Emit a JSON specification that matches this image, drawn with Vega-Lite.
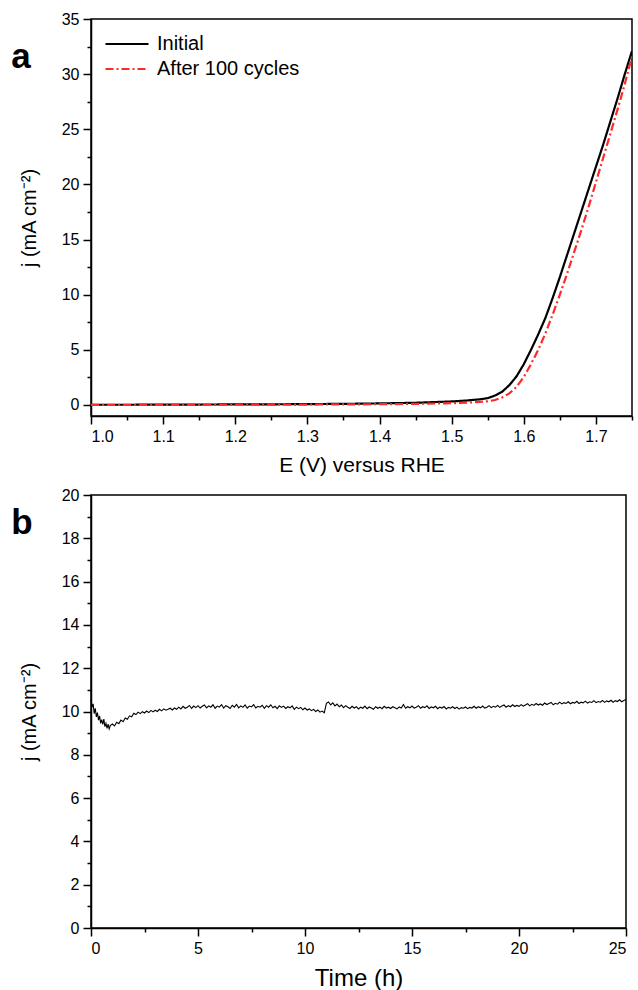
{
  "$schema": "https://vega.github.io/schema/vega-lite/v6.json",
  "padding": {"left": 10, "top": 10, "right": 5, "bottom": 5},
  "spacing": 10,
  "config": {
    "font": "Liberation Sans",
    "view": {"stroke": "black", "strokeWidth": 1.5},
    "axis": {
      "domainColor": "black", "domainWidth": 1.5, "tickColor": "black", "tickWidth": 1.5,
      "tickSize": 8, "labelFontSize": 16, "labelColor": "black", "titleFontSize": 20,
      "titleFontWeight": "normal", "titleColor": "black", "grid": false, "labelPadding": 4
    },
    "title": {"fontSize": 35, "fontWeight": "bold", "color": "black"}
  },
  "vconcat": [
    {
      "width": 541,
      "height": 397,
      "title": {"text": "a", "anchor": "start", "frame": "bounds", "dy": 68, "dx": -8},
      "data": {"values": [
        {"E": 1.00, "j": 0.02, "s": "Initial"},
        {"E": 1.05, "j": 0.02, "s": "Initial"},
        {"E": 1.10, "j": 0.03, "s": "Initial"},
        {"E": 1.15, "j": 0.04, "s": "Initial"},
        {"E": 1.20, "j": 0.05, "s": "Initial"},
        {"E": 1.25, "j": 0.06, "s": "Initial"},
        {"E": 1.30, "j": 0.08, "s": "Initial"},
        {"E": 1.35, "j": 0.10, "s": "Initial"},
        {"E": 1.40, "j": 0.14, "s": "Initial"},
        {"E": 1.45, "j": 0.20, "s": "Initial"},
        {"E": 1.50, "j": 0.32, "s": "Initial"},
        {"E": 1.52, "j": 0.40, "s": "Initial"},
        {"E": 1.54, "j": 0.52, "s": "Initial"},
        {"E": 1.55, "j": 0.62, "s": "Initial"},
        {"E": 1.56, "j": 0.85, "s": "Initial"},
        {"E": 1.57, "j": 1.20, "s": "Initial"},
        {"E": 1.58, "j": 1.80, "s": "Initial"},
        {"E": 1.59, "j": 2.60, "s": "Initial"},
        {"E": 1.60, "j": 3.70, "s": "Initial"},
        {"E": 1.61, "j": 5.00, "s": "Initial"},
        {"E": 1.62, "j": 6.40, "s": "Initial"},
        {"E": 1.63, "j": 7.90, "s": "Initial"},
        {"E": 1.64, "j": 9.70, "s": "Initial"},
        {"E": 1.65, "j": 11.6, "s": "Initial"},
        {"E": 1.66, "j": 13.6, "s": "Initial"},
        {"E": 1.67, "j": 15.6, "s": "Initial"},
        {"E": 1.68, "j": 17.6, "s": "Initial"},
        {"E": 1.69, "j": 19.6, "s": "Initial"},
        {"E": 1.70, "j": 21.6, "s": "Initial"},
        {"E": 1.71, "j": 23.6, "s": "Initial"},
        {"E": 1.72, "j": 25.7, "s": "Initial"},
        {"E": 1.73, "j": 27.8, "s": "Initial"},
        {"E": 1.74, "j": 30.0, "s": "Initial"},
        {"E": 1.75, "j": 32.1, "s": "Initial"},
        {"E": 1.00, "j": 0.00, "s": "After 100 cycles"},
        {"E": 1.10, "j": 0.01, "s": "After 100 cycles"},
        {"E": 1.20, "j": 0.02, "s": "After 100 cycles"},
        {"E": 1.30, "j": 0.04, "s": "After 100 cycles"},
        {"E": 1.40, "j": 0.07, "s": "After 100 cycles"},
        {"E": 1.45, "j": 0.10, "s": "After 100 cycles"},
        {"E": 1.50, "j": 0.16, "s": "After 100 cycles"},
        {"E": 1.53, "j": 0.24, "s": "After 100 cycles"},
        {"E": 1.55, "j": 0.33, "s": "After 100 cycles"},
        {"E": 1.56, "j": 0.45, "s": "After 100 cycles"},
        {"E": 1.57, "j": 0.68, "s": "After 100 cycles"},
        {"E": 1.58, "j": 1.05, "s": "After 100 cycles"},
        {"E": 1.59, "j": 1.65, "s": "After 100 cycles"},
        {"E": 1.60, "j": 2.55, "s": "After 100 cycles"},
        {"E": 1.61, "j": 3.70, "s": "After 100 cycles"},
        {"E": 1.62, "j": 5.00, "s": "After 100 cycles"},
        {"E": 1.63, "j": 6.50, "s": "After 100 cycles"},
        {"E": 1.64, "j": 8.20, "s": "After 100 cycles"},
        {"E": 1.65, "j": 10.0, "s": "After 100 cycles"},
        {"E": 1.66, "j": 11.9, "s": "After 100 cycles"},
        {"E": 1.67, "j": 13.9, "s": "After 100 cycles"},
        {"E": 1.68, "j": 15.9, "s": "After 100 cycles"},
        {"E": 1.69, "j": 18.0, "s": "After 100 cycles"},
        {"E": 1.70, "j": 20.2, "s": "After 100 cycles"},
        {"E": 1.71, "j": 22.4, "s": "After 100 cycles"},
        {"E": 1.72, "j": 24.6, "s": "After 100 cycles"},
        {"E": 1.73, "j": 26.8, "s": "After 100 cycles"},
        {"E": 1.74, "j": 29.1, "s": "After 100 cycles"},
        {"E": 1.75, "j": 31.6, "s": "After 100 cycles"}
      ]},
      "layer": [
        {
          "mark": {"type": "line", "strokeWidth": 2.2, "clip": true},
          "encoding": {
            "x": {"field": "E", "type": "quantitative",
              "scale": {"domain": [1.0, 1.75], "nice": false, "zero": false},
              "axis": {"orient": "bottom", "values": [1.0, 1.1, 1.2, 1.3, 1.4, 1.5, 1.6, 1.7], "format": ".1f", "title": "E (V) versus RHE", "titleFontSize": 21, "titlePadding": 10}},
            "y": {"field": "j", "type": "quantitative",
              "scale": {"domain": [-1, 35], "nice": false},
              "axis": {"orient": "left", "values": [0, 5, 10, 15, 20, 25, 30, 35], "title": "j (mA cm⁻²)", "titlePadding": 22}},
            "color": {"field": "s", "type": "nominal",
              "scale": {"domain": ["Initial", "After 100 cycles"], "range": ["black", "#ff2a2a"]},
              "legend": {"title": null, "orient": "top-left", "offset": 13, "symbolType": "stroke", "symbolSize": 1850, "symbolStrokeWidth": 2, "clipHeight": 24, "labelFontSize": 20, "labelColor": "black", "rowPadding": 1, "labelOffset": 7}},
            "strokeDash": {"field": "s", "type": "nominal",
              "scale": {"domain": ["Initial", "After 100 cycles"], "range": [[1, 0], [8, 3, 2, 3]]},
              "legend": {"title": null, "orient": "top-left", "offset": 13, "symbolType": "stroke", "symbolSize": 1850, "symbolStrokeWidth": 2, "clipHeight": 24, "labelFontSize": 20, "labelColor": "black", "rowPadding": 1, "labelOffset": 7}}
          }
        },
        {
          "mark": {"type": "point", "opacity": 0},
          "encoding": {
            "x": {"field": "E", "type": "quantitative",
              "axis": {"orient": "bottom", "values": [1.05, 1.15, 1.25, 1.35, 1.45, 1.55, 1.65, 1.75], "labels": false, "domain": false, "tickSize": 4, "title": null}},
            "y": {"field": "j", "type": "quantitative",
              "axis": {"orient": "left", "values": [2.5, 7.5, 12.5, 17.5, 22.5, 27.5, 32.5], "labels": false, "domain": false, "tickSize": 4, "title": null}}
          }
        }
      ],
      "resolve": {"axis": {"x": "independent", "y": "independent"}}
    },
    {
      "width": 535,
      "height": 433,
      "title": {"text": "b", "anchor": "start", "frame": "bounds", "dy": 58, "dx": -8},
      "data": {"values": [
        {"t": 0.0, "j": 10.55}, {"t": 0.05, "j": 10.2}, {"t": 0.1, "j": 10.35}, {"t": 0.15, "j": 9.9},
        {"t": 0.2, "j": 10.15}, {"t": 0.25, "j": 9.75}, {"t": 0.3, "j": 9.95}, {"t": 0.35, "j": 9.6},
        {"t": 0.4, "j": 9.8}, {"t": 0.45, "j": 9.45}, {"t": 0.5, "j": 9.62}, {"t": 0.55, "j": 9.4},
        {"t": 0.6, "j": 9.65}, {"t": 0.65, "j": 9.3}, {"t": 0.7, "j": 9.45}, {"t": 0.75, "j": 9.22},
        {"t": 0.8, "j": 9.42}, {"t": 0.85, "j": 9.2}, {"t": 0.9, "j": 9.35}, {"t": 1.0, "j": 9.42},
        {"t": 1.1, "j": 9.33}, {"t": 1.2, "j": 9.5}, {"t": 1.3, "j": 9.44}, {"t": 1.4, "j": 9.6},
        {"t": 1.5, "j": 9.53}, {"t": 1.6, "j": 9.7}, {"t": 1.7, "j": 9.64}, {"t": 1.8, "j": 9.8},
        {"t": 1.9, "j": 9.76},
        {"t": 2.0, "j": 9.92}, {"t": 2.1, "j": 9.86}, {"t": 2.2, "j": 9.97}, {"t": 2.3, "j": 9.9}, {"t": 2.4, "j": 9.99},
        {"t": 2.5, "j": 9.93}, {"t": 2.6, "j": 10.02}, {"t": 2.7, "j": 9.95}, {"t": 2.8, "j": 10.05}, {"t": 2.9, "j": 9.98},
        {"t": 3.0, "j": 10.06}, {"t": 3.1, "j": 10.0}, {"t": 3.2, "j": 10.1}, {"t": 3.3, "j": 10.03}, {"t": 3.4, "j": 10.12},
        {"t": 3.5, "j": 10.06}, {"t": 3.6, "j": 10.1}, {"t": 3.7, "j": 10.15}, {"t": 3.8, "j": 10.07}, {"t": 3.9, "j": 10.16},
        {"t": 4.0, "j": 10.1}, {"t": 4.1, "j": 10.2}, {"t": 4.2, "j": 10.12}, {"t": 4.3, "j": 10.24}, {"t": 4.4, "j": 10.15},
        {"t": 4.5, "j": 10.2}, {"t": 4.6, "j": 10.28}, {"t": 4.7, "j": 10.14}, {"t": 4.8, "j": 10.25}, {"t": 4.9, "j": 10.18},
        {"t": 5.0, "j": 10.27}, {"t": 5.1, "j": 10.16}, {"t": 5.2, "j": 10.24}, {"t": 5.3, "j": 10.3}, {"t": 5.4, "j": 10.17},
        {"t": 5.5, "j": 10.26}, {"t": 5.6, "j": 10.2}, {"t": 5.7, "j": 10.31}, {"t": 5.8, "j": 10.15}, {"t": 5.9, "j": 10.25},
        {"t": 6.0, "j": 10.2}, {"t": 6.1, "j": 10.32}, {"t": 6.2, "j": 10.16}, {"t": 6.3, "j": 10.27}, {"t": 6.4, "j": 10.22},
        {"t": 6.5, "j": 10.14}, {"t": 6.6, "j": 10.29}, {"t": 6.7, "j": 10.2}, {"t": 6.8, "j": 10.33}, {"t": 6.9, "j": 10.17},
        {"t": 7.0, "j": 10.26}, {"t": 7.1, "j": 10.19}, {"t": 7.2, "j": 10.3}, {"t": 7.3, "j": 10.15}, {"t": 7.4, "j": 10.25},
        {"t": 7.5, "j": 10.21}, {"t": 7.6, "j": 10.32}, {"t": 7.7, "j": 10.16}, {"t": 7.8, "j": 10.24}, {"t": 7.9, "j": 10.2},
        {"t": 8.0, "j": 10.29}, {"t": 8.1, "j": 10.15}, {"t": 8.2, "j": 10.27}, {"t": 8.3, "j": 10.2}, {"t": 8.4, "j": 10.31},
        {"t": 8.5, "j": 10.17}, {"t": 8.6, "j": 10.24}, {"t": 8.7, "j": 10.13}, {"t": 8.8, "j": 10.26}, {"t": 8.9, "j": 10.19},
        {"t": 9.0, "j": 10.25}, {"t": 9.1, "j": 10.14}, {"t": 9.2, "j": 10.22}, {"t": 9.3, "j": 10.17}, {"t": 9.4, "j": 10.26},
        {"t": 9.5, "j": 10.1}, {"t": 9.6, "j": 10.2}, {"t": 9.7, "j": 10.13}, {"t": 9.8, "j": 10.19}, {"t": 9.9, "j": 10.08},
        {"t": 10.0, "j": 10.16}, {"t": 10.1, "j": 10.07}, {"t": 10.2, "j": 10.12}, {"t": 10.3, "j": 10.04}, {"t": 10.4, "j": 10.1},
        {"t": 10.5, "j": 10.0}, {"t": 10.6, "j": 10.07}, {"t": 10.7, "j": 9.97}, {"t": 10.8, "j": 10.02}, {"t": 10.9, "j": 9.94},
        {"t": 11.0, "j": 10.38}, {"t": 11.1, "j": 10.44}, {"t": 11.2, "j": 10.3}, {"t": 11.3, "j": 10.4}, {"t": 11.4, "j": 10.26},
        {"t": 11.5, "j": 10.34}, {"t": 11.6, "j": 10.22}, {"t": 11.7, "j": 10.3}, {"t": 11.8, "j": 10.18}, {"t": 11.9, "j": 10.27},
        {"t": 12.0, "j": 10.2}, {"t": 12.1, "j": 10.14}, {"t": 12.2, "j": 10.24}, {"t": 12.3, "j": 10.16}, {"t": 12.4, "j": 10.22},
        {"t": 12.5, "j": 10.12}, {"t": 12.6, "j": 10.2}, {"t": 12.7, "j": 10.15}, {"t": 12.8, "j": 10.25}, {"t": 12.9, "j": 10.13},
        {"t": 13.0, "j": 10.21}, {"t": 13.1, "j": 10.16}, {"t": 13.2, "j": 10.1}, {"t": 13.3, "j": 10.22}, {"t": 13.4, "j": 10.15},
        {"t": 13.5, "j": 10.2}, {"t": 13.6, "j": 10.13}, {"t": 13.7, "j": 10.24}, {"t": 13.8, "j": 10.16}, {"t": 13.9, "j": 10.2},
        {"t": 14.0, "j": 10.14}, {"t": 14.1, "j": 10.22}, {"t": 14.2, "j": 10.17}, {"t": 14.3, "j": 10.12}, {"t": 14.4, "j": 10.21},
        {"t": 14.5, "j": 10.16}, {"t": 14.6, "j": 10.32}, {"t": 14.7, "j": 10.15}, {"t": 14.8, "j": 10.22}, {"t": 14.9, "j": 10.17},
        {"t": 15.0, "j": 10.25}, {"t": 15.1, "j": 10.16}, {"t": 15.2, "j": 10.2}, {"t": 15.3, "j": 10.27}, {"t": 15.4, "j": 10.15},
        {"t": 15.5, "j": 10.22}, {"t": 15.6, "j": 10.18}, {"t": 15.7, "j": 10.26}, {"t": 15.8, "j": 10.14}, {"t": 15.9, "j": 10.21},
        {"t": 16.0, "j": 10.17}, {"t": 16.1, "j": 10.24}, {"t": 16.2, "j": 10.13}, {"t": 16.3, "j": 10.2}, {"t": 16.4, "j": 10.16},
        {"t": 16.5, "j": 10.23}, {"t": 16.6, "j": 10.12}, {"t": 16.7, "j": 10.19}, {"t": 16.8, "j": 10.15}, {"t": 16.9, "j": 10.22},
        {"t": 17.0, "j": 10.14}, {"t": 17.1, "j": 10.2}, {"t": 17.2, "j": 10.11}, {"t": 17.3, "j": 10.18}, {"t": 17.4, "j": 10.15},
        {"t": 17.5, "j": 10.21}, {"t": 17.6, "j": 10.13}, {"t": 17.7, "j": 10.19}, {"t": 17.8, "j": 10.16}, {"t": 17.9, "j": 10.24},
        {"t": 18.0, "j": 10.15}, {"t": 18.1, "j": 10.22}, {"t": 18.2, "j": 10.17}, {"t": 18.3, "j": 10.25}, {"t": 18.4, "j": 10.16},
        {"t": 18.5, "j": 10.2}, {"t": 18.6, "j": 10.27}, {"t": 18.7, "j": 10.18}, {"t": 18.8, "j": 10.24}, {"t": 18.9, "j": 10.2},
        {"t": 19.0, "j": 10.28}, {"t": 19.1, "j": 10.19}, {"t": 19.2, "j": 10.25}, {"t": 19.3, "j": 10.3}, {"t": 19.4, "j": 10.2},
        {"t": 19.5, "j": 10.27}, {"t": 19.6, "j": 10.22}, {"t": 19.7, "j": 10.31}, {"t": 19.8, "j": 10.23}, {"t": 19.9, "j": 10.28},
        {"t": 20.0, "j": 10.24}, {"t": 20.1, "j": 10.32}, {"t": 20.2, "j": 10.25}, {"t": 20.3, "j": 10.3}, {"t": 20.4, "j": 10.36},
        {"t": 20.5, "j": 10.26}, {"t": 20.6, "j": 10.33}, {"t": 20.7, "j": 10.28}, {"t": 20.8, "j": 10.37}, {"t": 20.9, "j": 10.3},
        {"t": 21.0, "j": 10.35}, {"t": 21.1, "j": 10.29}, {"t": 21.2, "j": 10.39}, {"t": 21.3, "j": 10.32}, {"t": 21.4, "j": 10.37},
        {"t": 21.5, "j": 10.42}, {"t": 21.6, "j": 10.31}, {"t": 21.7, "j": 10.38}, {"t": 21.8, "j": 10.34}, {"t": 21.9, "j": 10.43},
        {"t": 22.0, "j": 10.35}, {"t": 22.1, "j": 10.41}, {"t": 22.2, "j": 10.37}, {"t": 22.3, "j": 10.45}, {"t": 22.4, "j": 10.36},
        {"t": 22.5, "j": 10.42}, {"t": 22.6, "j": 10.39}, {"t": 22.7, "j": 10.47}, {"t": 22.8, "j": 10.37}, {"t": 22.9, "j": 10.43},
        {"t": 23.0, "j": 10.4}, {"t": 23.1, "j": 10.48}, {"t": 23.2, "j": 10.39}, {"t": 23.3, "j": 10.45}, {"t": 23.4, "j": 10.42},
        {"t": 23.5, "j": 10.5}, {"t": 23.6, "j": 10.41}, {"t": 23.7, "j": 10.46}, {"t": 23.8, "j": 10.43}, {"t": 23.9, "j": 10.51},
        {"t": 24.0, "j": 10.42}, {"t": 24.1, "j": 10.49}, {"t": 24.2, "j": 10.45}, {"t": 24.3, "j": 10.52}, {"t": 24.4, "j": 10.43},
        {"t": 24.5, "j": 10.5}, {"t": 24.6, "j": 10.46}, {"t": 24.7, "j": 10.54}, {"t": 24.8, "j": 10.45}, {"t": 24.9, "j": 10.51},
        {"t": 25.0, "j": 10.56}
      ]},
      "layer": [
        {
          "mark": {"type": "line", "strokeWidth": 1.1, "color": "black"},
          "encoding": {
            "x": {"field": "t", "type": "quantitative",
              "scale": {"domain": [0, 25], "nice": false},
              "axis": {"orient": "bottom", "values": [0, 5, 10, 15, 20, 25], "title": "Time (h)", "titleFontSize": 24, "titlePadding": 10}},
            "y": {"field": "j", "type": "quantitative",
              "scale": {"domain": [0, 20], "nice": false},
              "axis": {"orient": "left", "values": [0, 2, 4, 6, 8, 10, 12, 14, 16, 18, 20], "title": "j (mA cm⁻²)", "titlePadding": 22}}
          }
        },
        {
          "mark": {"type": "point", "opacity": 0},
          "encoding": {
            "x": {"field": "t", "type": "quantitative",
              "axis": {"orient": "bottom", "values": [2.5, 7.5, 12.5, 17.5, 22.5], "labels": false, "domain": false, "tickSize": 4, "title": null}},
            "y": {"field": "j", "type": "quantitative",
              "axis": {"orient": "left", "values": [1, 3, 5, 7, 9, 11, 13, 15, 17, 19], "labels": false, "domain": false, "tickSize": 4, "title": null}}
          }
        }
      ],
      "resolve": {"axis": {"x": "independent", "y": "independent"}}
    }
  ]
}
